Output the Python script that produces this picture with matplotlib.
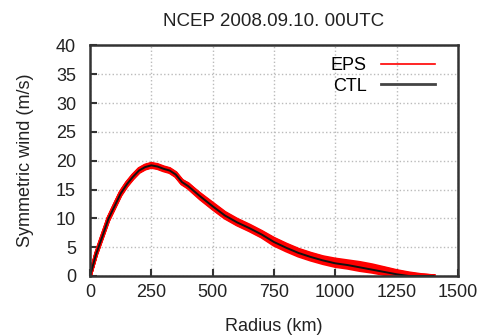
# symmetric wind profile, ensemble members vs control run
import matplotlib
matplotlib.use("Agg")
import matplotlib.pyplot as plt

plt.rcParams['font.family'] = ['Liberation Sans', 'DejaVu Sans']

# finer spacing near the wind maximum
radius_km = list(range(0, 400, 25)) + list(range(400, 1450, 50))

ctl = [0, 3.8, 6.8, 9.9, 12.1, 14.3, 15.9, 17.2, 18.3, 18.9, 19.2, 19.0, 18.6, 18.3, 17.6, 16.3, 15.6,
       13.8, 12.1, 10.5, 9.3, 8.3, 7.2, 5.9, 4.9, 4.0, 3.3, 2.7, 2.2, 1.9, 1.5, 1.1, 0.7, 0.3, 0.0, 0.0, 0.0]

eps_1 = [0, 3.9, 7.0, 10.1, 12.4, 14.6, 16.2, 17.5, 18.6, 19.2, 19.5, 19.3, 18.9, 18.6, 17.9, 16.6, 15.9,
         14.2, 12.6, 11.0, 9.8, 8.8, 7.7, 6.5, 5.5, 4.6, 3.9, 3.3, 2.9, 2.6, 2.3, 1.9, 1.4, 0.9, 0.5, 0.2, 0.0]
eps_2 = [0, 3.6, 6.6, 9.6, 11.8, 14.0, 15.6, 16.9, 18.0, 18.6, 18.9, 18.7, 18.3, 18.0, 17.3, 16.0, 15.3,
         13.4, 11.7, 10.1, 8.9, 7.9, 6.8, 5.4, 4.4, 3.5, 2.8, 2.2, 1.7, 1.4, 1.0, 0.7, 0.3, 0.0, 0.0, 0.0, 0.0]
eps_3 = [0, 3.8, 6.9, 10.0, 12.2, 14.4, 16.0, 17.3, 18.4, 19.0, 19.3, 19.1, 18.8, 18.5, 17.8, 16.4, 15.8,
         14.0, 12.4, 10.8, 9.6, 8.6, 7.5, 6.2, 5.2, 4.3, 3.6, 3.0, 2.5, 2.2, 1.8, 1.5, 1.1, 0.6, 0.3, 0.1, 0.0]
eps_4 = [0, 3.7, 6.7, 9.7, 11.9, 14.1, 15.7, 17.0, 18.1, 18.7, 19.0, 18.8, 18.5, 18.1, 17.4, 16.1, 15.4,
         13.6, 11.9, 10.3, 9.1, 8.1, 7.0, 5.7, 4.7, 3.8, 3.1, 2.5, 2.0, 1.7, 1.3, 0.9, 0.5, 0.2, 0.0, 0.0, 0.0]
eps_5 = [0, 4.0, 7.1, 10.1, 12.3, 14.5, 16.1, 17.4, 18.5, 19.1, 19.4, 19.2, 18.7, 18.4, 17.7, 16.5, 15.8,
         14.1, 12.5, 10.9, 9.7, 8.7, 7.6, 6.4, 5.4, 4.5, 3.8, 3.2, 2.7, 2.4, 2.1, 1.7, 1.3, 0.8, 0.4, 0.1, 0.0]
eps_6 = [0, 3.8, 6.8, 9.8, 12.0, 14.2, 15.8, 17.1, 18.2, 18.8, 19.1, 18.9, 18.6, 18.2, 17.5, 16.2, 15.5,
         13.7, 12.0, 10.4, 9.2, 8.2, 7.1, 5.8, 4.8, 3.9, 3.2, 2.6, 2.1, 1.8, 1.5, 1.2, 0.8, 0.4, 0.1, 0.0, 0.0]
eps_7 = [0, 3.9, 6.9, 10.0, 12.3, 14.5, 16.1, 17.4, 18.5, 19.1, 19.4, 19.2, 18.8, 18.5, 17.8, 16.5, 16.0,
         14.1, 12.4, 10.8, 9.5, 8.5, 7.4, 6.1, 5.1, 4.3, 3.6, 3.1, 2.7, 2.4, 2.0, 1.5, 1.0, 0.6, 0.2, 0.0, 0.0]
eps_8 = [0, 3.7, 6.7, 9.7, 12.0, 14.2, 15.8, 17.0, 18.1, 18.7, 19.0, 18.8, 18.4, 18.1, 17.4, 16.1, 15.5,
         13.5, 11.8, 10.2, 9.0, 8.0, 6.9, 5.6, 4.6, 3.7, 3.0, 2.4, 1.9, 1.6, 1.2, 0.9, 0.6, 0.3, 0.1, 0.0, 0.0]
members = [eps_1, eps_2, eps_3, eps_4, eps_5, eps_6, eps_7, eps_8]

fig = plt.figure(figsize=(4.83, 3.36), dpi=100)
ax = fig.add_axes([0.1863, 0.1786, 0.7617, 0.686])

for i, m in enumerate(members):
    ax.plot(radius_km, m, color='#ff0000', lw=2.6, solid_joinstyle='round',
            label='EPS' if i == 0 else None)
ax.plot(radius_km, ctl, color='#111111', lw=1.4, solid_joinstyle='round', label='CTL')

ax.set_xlim(0, 1500)
ax.set_ylim(0, 40)
ax.set_xticks(range(0, 1501, 250))
ax.set_yticks(range(0, 41, 5))
ax.grid(True, color='#bbbbbb', linestyle=':', linewidth=1.0)
ax.set_axisbelow(True)

for s in ax.spines.values():
    s.set_linewidth(1.8)
    s.set_color('#333333')
ax.tick_params(direction='in', length=5, width=1.5, labelsize=13, colors='#333333',
               labelcolor='#222222')
ax.tick_params(axis='x', pad=6)
ax.tick_params(axis='y', pad=10)

ax.set_title('NCEP 2008.09.10. 00UTC', fontsize=13.5, color='#222222', pad=14)
ax.set_xlabel('Radius (km)', fontsize=13, color='#222222', labelpad=12)
ax.set_ylabel('Symmetric wind (m/s)', fontsize=13, color='#222222', labelpad=16)

leg = ax.legend(loc='upper right', bbox_to_anchor=(0.9587, 0.9818), borderaxespad=0,
                frameon=False, markerfirst=False, fontsize=13,
                handlelength=3.0, labelspacing=0.2, handletextpad=0.8)
leg.get_lines()[0].set_linewidth(1.2)
leg.get_lines()[1].set_linewidth(2.0)
leg.get_lines()[1].set_color('#444444')

fig.savefig('out.png', dpi=100)
